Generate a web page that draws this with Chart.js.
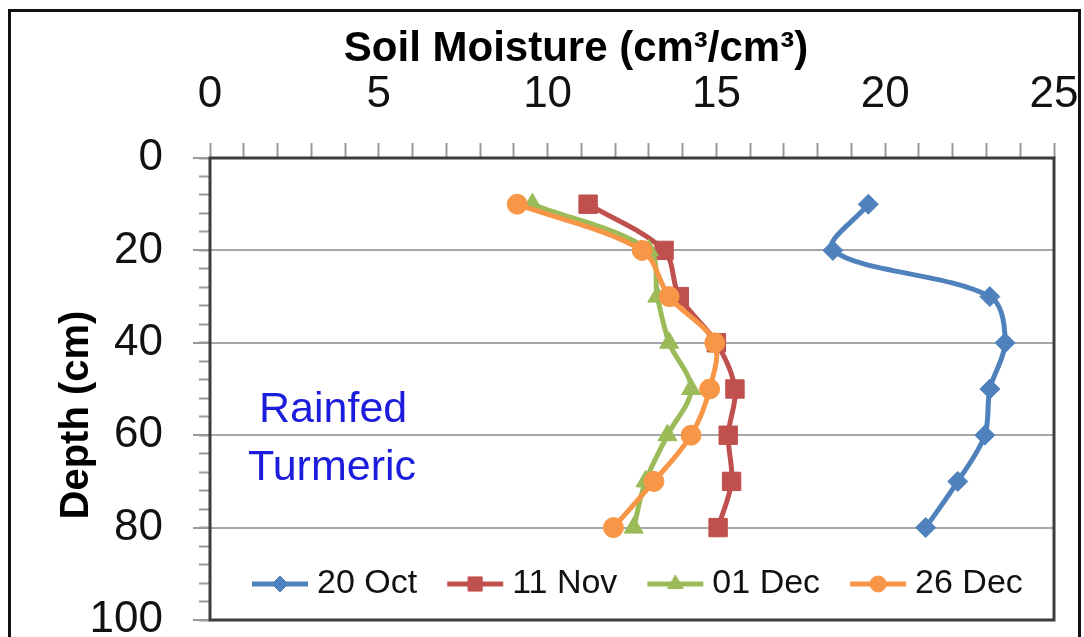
<!DOCTYPE html>
<html><head><meta charset="utf-8">
<style>
html,body{margin:0;padding:0;background:#fff;overflow:hidden;}
#wrap{position:relative;width:1084px;height:637px;overflow:hidden;}
#frame{position:absolute;left:8px;top:9px;width:1073px;height:700px;border:3px solid #111;box-sizing:border-box;pointer-events:none;}
canvas{position:absolute;left:0;top:0;}
</style>
<script src="https://cdn.jsdelivr.net/npm/chart.js@4.4.1/dist/chart.umd.min.js"></script>
</head><body>
<div id="wrap"><canvas id="c" width="1084" height="637"></canvas><div id="frame"></div></div>
<script>
// ---- data ----
const depths = [10, 20, 30, 40, 50, 60, 70, 80];
const oct20 = [19.5, 18.45, 23.1, 23.55, 23.1, 22.95, 22.15, 21.2];
const nov11 = [11.2, 13.45, 13.9, 15.0, 15.55, 15.35, 15.45, 15.05];
const dec01 = [9.55, 13.0, 13.25, 13.6, 14.25, 13.55, 12.9, 12.55];
const dec26 = [9.1, 12.8, 13.6, 14.95, 14.8, 14.25, 13.15, 11.95];
const seriesNames = ['20 Oct', '11 Nov', '01 Dec', '26 Dec'];
const xTickValues = [0, 5, 10, 15, 20, 25];
const yTickValues = [0, 20, 40, 60, 80, 100];
const xTitle = 'Soil Moisture (cm\u00B3/cm\u00B3)';
const yTitle = 'Depth (cm)';
const noteLines = ['Rainfed', 'Turmeric'];

// ---- styles ----
const FONT = '"Liberation Sans", Arial, sans-serif';
Chart.defaults.font.family = FONT;
const colors = ['#4F81BD', '#C0504D', '#9BBB59', '#F79646'];
const styles = ['rectRot', 'rect', 'triangle', 'circle'];
const radii = [10, 13, 11, 10];
const legendRadii = [8, 10, 9, 8];
const seriesValues = [oct20, nov11, dec01, dec26];

function makeSwatch(i) {
  const cv = document.createElement('canvas');
  cv.width = 62; cv.height = 26;
  const g = cv.getContext('2d');
  g.strokeStyle = colors[i]; g.lineWidth = 5;
  g.beginPath(); g.moveTo(3, 13); g.lineTo(59, 13); g.stroke();
  g.fillStyle = colors[i]; g.strokeStyle = colors[i]; g.lineWidth = 1;
  Chart.helpers.drawPoint(g, {pointStyle: styles[i], radius: legendRadii[i], rotation: 0, borderWidth: 1}, 31, 13);
  return cv;
}
const swatches = colors.map((c, i) => makeSwatch(i));

const datasets = seriesValues.map((vals, i) => ({
  label: seriesNames[i],
  data: depths.map((d, k) => ({x: vals[k], y: d})),
  borderColor: colors[i],
  backgroundColor: colors[i],
  pointBackgroundColor: colors[i],
  pointBorderColor: colors[i],
  pointBorderWidth: 1,
  pointStyle: styles[i],
  pointRadius: radii[i],
  borderWidth: 5,
  tension: 0.33,
  fill: false,
  order: 3 - i,
  xAxisID: 'x',
  yAxisID: 'y'
}));

const LEG_PAD = 38;
const legendInside = {
  id: 'legendInside',
  beforeLayout(chart) {
    const leg = chart.legend;
    if (leg && !leg._patched) {
      const fit = leg.fit;
      leg.fit = function () { fit.call(this); this._h = this.height; this.height = 0; };
      leg._patched = true;
    }
  },
  afterLayout(chart) {
    const leg = chart.legend;
    if (!leg) return;
    leg.left = 222; leg.right = chart.width;
    leg.top = 529; leg.bottom = leg.top + (leg._h || 60);
    leg.width = leg.right - leg.left; leg.height = leg.bottom - leg.top;
  }
};

const decor = {
  id: 'decor',
  beforeDatasetsDraw(chart) {
    const {ctx, chartArea: a} = chart;
    ctx.save();
    ctx.strokeStyle = '#3d3d3d'; ctx.lineWidth = 3;
    ctx.strokeRect(a.left, a.top, a.right - a.left, a.bottom - a.top);
    ctx.restore();
  },
  afterDraw(chart) {
    const ctx = chart.ctx;
    ctx.save();
    ctx.fillStyle = '#000';
    ctx.font = 'bold 42px ' + FONT;
    ctx.textAlign = 'center'; ctx.textBaseline = 'alphabetic';
    ctx.fillText(xTitle, 576, 61);
    ctx.translate(88, 415); ctx.rotate(-Math.PI / 2);
    ctx.font = 'bold 40px ' + FONT;
    ctx.fillText(yTitle, 0, 0);
    ctx.restore();
    ctx.save();
    ctx.fillStyle = '#1c1cdc';
    ctx.font = '43px ' + FONT;
    ctx.textAlign = 'left'; ctx.textBaseline = 'alphabetic';
    ctx.fillText(noteLines[0], 259, 422);
    ctx.fillText(noteLines[1], 248, 480);
    ctx.restore();
  }
};

new Chart(document.getElementById('c'), {
  type: 'line',
  data: {datasets},
  plugins: [legendInside, decor],
  options: {
    responsive: false,
    animation: false,
    indexAxis: 'y',
    layout: {padding: {left: 0, top: 0, right: 30, bottom: 17}},
    plugins: {
      title: {display: false},
      tooltip: {enabled: false},
      legend: {
        display: true,
        position: 'bottom',
        align: 'start',
        labels: {
          usePointStyle: true,
          pointStyleWidth: 40,
          padding: LEG_PAD,
          color: '#111',
          font: {size: 34},
          sort: (a, b) => a.datasetIndex - b.datasetIndex,
          generateLabels(chart) {
            const items = Chart.defaults.plugins.legend.labels.generateLabels(chart);
            items.forEach(it => { it.pointStyle = swatches[it.datasetIndex]; it.fontColor = '#111'; });
            return items;
          }
        }
      }
    },
    scales: {
      x: {
        type: 'linear', position: 'top', min: 0, max: 25,
        ticks: {
          stepSize: 1, autoSkip: false, maxRotation: 0, padding: 22,
          color: '#111', font: {size: 44},
          callback: v => xTickValues.includes(v) ? String(v) : ''
        },
        grid: {drawOnChartArea: false, tickLength: 15, tickColor: '#999', tickWidth: 2},
        border: {display: false},
        afterFit: s => { s.height = 158; s.paddingLeft = 0; s.paddingRight = 0; }
      },
      y: {
        type: 'linear', position: 'left', reverse: true, min: 0, max: 100, weight: 10,
        ticks: {
          stepSize: 20, padding: 30, color: '#111', font: {size: 44},
          callback: v => yTickValues.includes(v) ? String(v) : ''
        },
        grid: {
          color: c => (c.tick && c.tick.value > 0 && c.tick.value < 100) ? '#a6a6a6' : 'rgba(0,0,0,0)',
          lineWidth: 2, tickLength: 17, tickColor: '#999', tickWidth: 2
        },
        border: {display: false},
        afterFit: s => { s.width = 210; s.paddingTop = 0; s.paddingBottom = 0; }
      },
      y2: {
        type: 'linear', position: 'left', reverse: true, min: 0, max: 100, weight: 0,
        ticks: {display: false, stepSize: 4},
        grid: {drawOnChartArea: false, tickLength: 11, tickColor: '#999', tickWidth: 2},
        border: {display: false},
        afterFit: s => { s.width = 0; s.paddingTop = 0; s.paddingBottom = 0; }
      }
    }
  }
});
</script>
</body></html>
